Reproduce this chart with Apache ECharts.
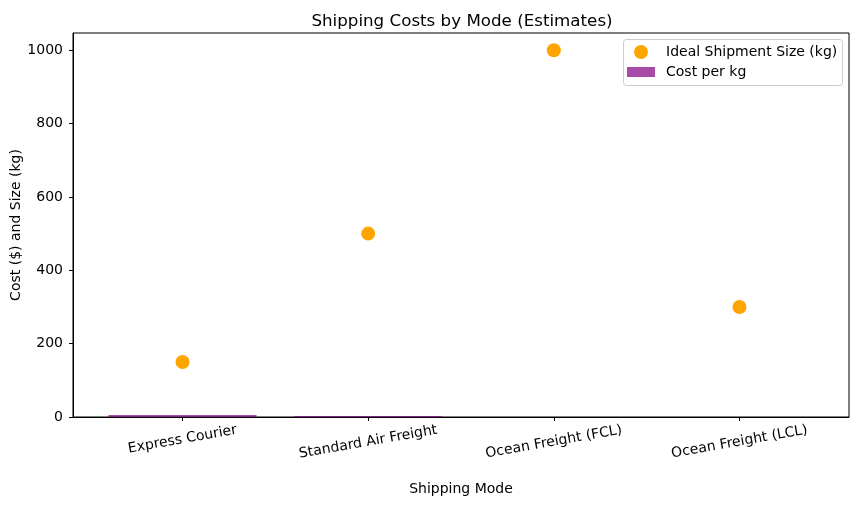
<!DOCTYPE html>
<html>
<head>
<meta charset="utf-8">
<script src="https://cdn.jsdelivr.net/npm/echarts@6/dist/echarts.min.js"></script>
<style>html,body{margin:0;padding:0;background:#fff}#c{width:859px;height:506px}</style>
</head>
<body>
<div id="c"></div>
<script>
const categories = ["Express Courier", "Standard Air Freight", "Ocean Freight (FCL)", "Ocean Freight (LCL)"];
const costPerKg = [5.5, 2.5, 0.15, 0.3];
const idealSize = [150, 500, 1000, 300];
const yTicks = [0, 200, 400, 600, 800, 1000];

const FONT = "DejaVu Sans";
const LABEL_ROT = 10;
const chart = echarts.init(document.getElementById('c'), null, {renderer: 'canvas'});
const catIdx = categories.map((_, i) => i);

// per-label offset so that the top of each rotated label sits just below the ticks
const ctx = document.createElement('canvas').getContext('2d');
ctx.font = '14px "DejaVu Sans"';
const th = LABEL_ROT * Math.PI / 180;
const rich = {};
categories.forEach((c, i) => {
  const w = ctx.measureText(c).width;
  const half = (w * Math.sin(th) + 14 * Math.cos(th)) / 2;
  rich['l' + i] = {
    fontFamily: FONT, fontSize: 14, color: '#000',
    padding: [2 * half * Math.cos(th), 2 * half * Math.sin(th), 0, 0]
  };
});

chart.setOption({
  animation: false,
  backgroundColor: '#fff',
  textStyle: {fontFamily: FONT},
  title: {
    text: 'Shipping Costs by Mode (Estimates)',
    left: 457, top: 8, textAlign: 'center',
    textStyle: {fontFamily: FONT, fontSize: 16.7, fontWeight: 'normal', color: '#000'}
  },
  grid: {left: 73, right: 10, top: 33, bottom: 89, containLabel: false, outerBoundsMode: 'none',
         show: true, borderColor: '#000', borderWidth: 1, backgroundColor: 'transparent'},
  xAxis: {
    type: 'value', min: -0.59, max: 3.59,
    name: 'Shipping Mode', nameLocation: 'middle', nameGap: 65,
    nameTextStyle: {fontFamily: FONT, fontSize: 14, color: '#000'},
    axisLine: {show: true, onZero: false, lineStyle: {color: '#000', width: 1}},
    axisTick: {show: true, length: 4, lineStyle: {color: '#000'}, customValues: catIdx},
    axisLabel: {
      customValues: catIdx, rotate: LABEL_ROT, align: 'center', verticalAlign: 'middle', margin: 6,
      fontFamily: FONT, fontSize: 14, color: '#000', rich: rich,
      formatter: v => { const i = Math.round(v); return '{l' + i + '|' + categories[i] + '}'; }
    },
    splitLine: {show: false}
  },
  yAxis: {
    type: 'value', min: 0, max: 1047,
    name: 'Cost ($) and Size (kg)', nameLocation: 'middle', nameGap: 50, nameMoveOverlap: false,
    nameTextStyle: {fontFamily: FONT, fontSize: 14, color: '#000'},
    axisLine: {show: true, onZero: false, lineStyle: {color: '#000', width: 1}},
    axisTick: {show: true, length: 4, lineStyle: {color: '#000'}, customValues: yTicks},
    axisLabel: {customValues: yTicks, margin: 10, fontFamily: FONT, fontSize: 14, color: '#000',
                formatter: v => String(v)},
    splitLine: {show: false}
  },
  legend: {
    orient: 'vertical', left: 627, top: 45, padding: 0,
    itemWidth: 28, itemHeight: 14, itemGap: 6,
    textStyle: {fontFamily: FONT, fontSize: 14, color: '#000', padding: [0, 0, 0, 6]},
    data: [
      {name: 'Ideal Shipment Size (kg)', icon: 'circle'},
      {name: 'Cost per kg', icon: 'path://M0,0h28v10h-28z'}
    ]
  },
  graphic: [{
    type: 'rect', z: 0, zlevel: 0,
    shape: {x: 623.5, y: 39.5, width: 219, height: 46, r: 3},
    style: {fill: 'rgba(255,255,255,0.8)', stroke: '#cccccc', lineWidth: 1}
  }],
  series: [
    {
      name: 'Cost per kg', type: 'bar', barWidth: 148,
      itemStyle: {color: 'rgba(128,0,128,0.7)'},
      data: costPerKg.map((v, i) => [i, v])
    },
    {
      name: 'Ideal Shipment Size (kg)', type: 'scatter', symbolSize: 14,
      itemStyle: {color: '#FFA500', opacity: 1},
      data: idealSize.map((v, i) => [i, v])
    }
  ]
});
</script>
</body>
</html>
